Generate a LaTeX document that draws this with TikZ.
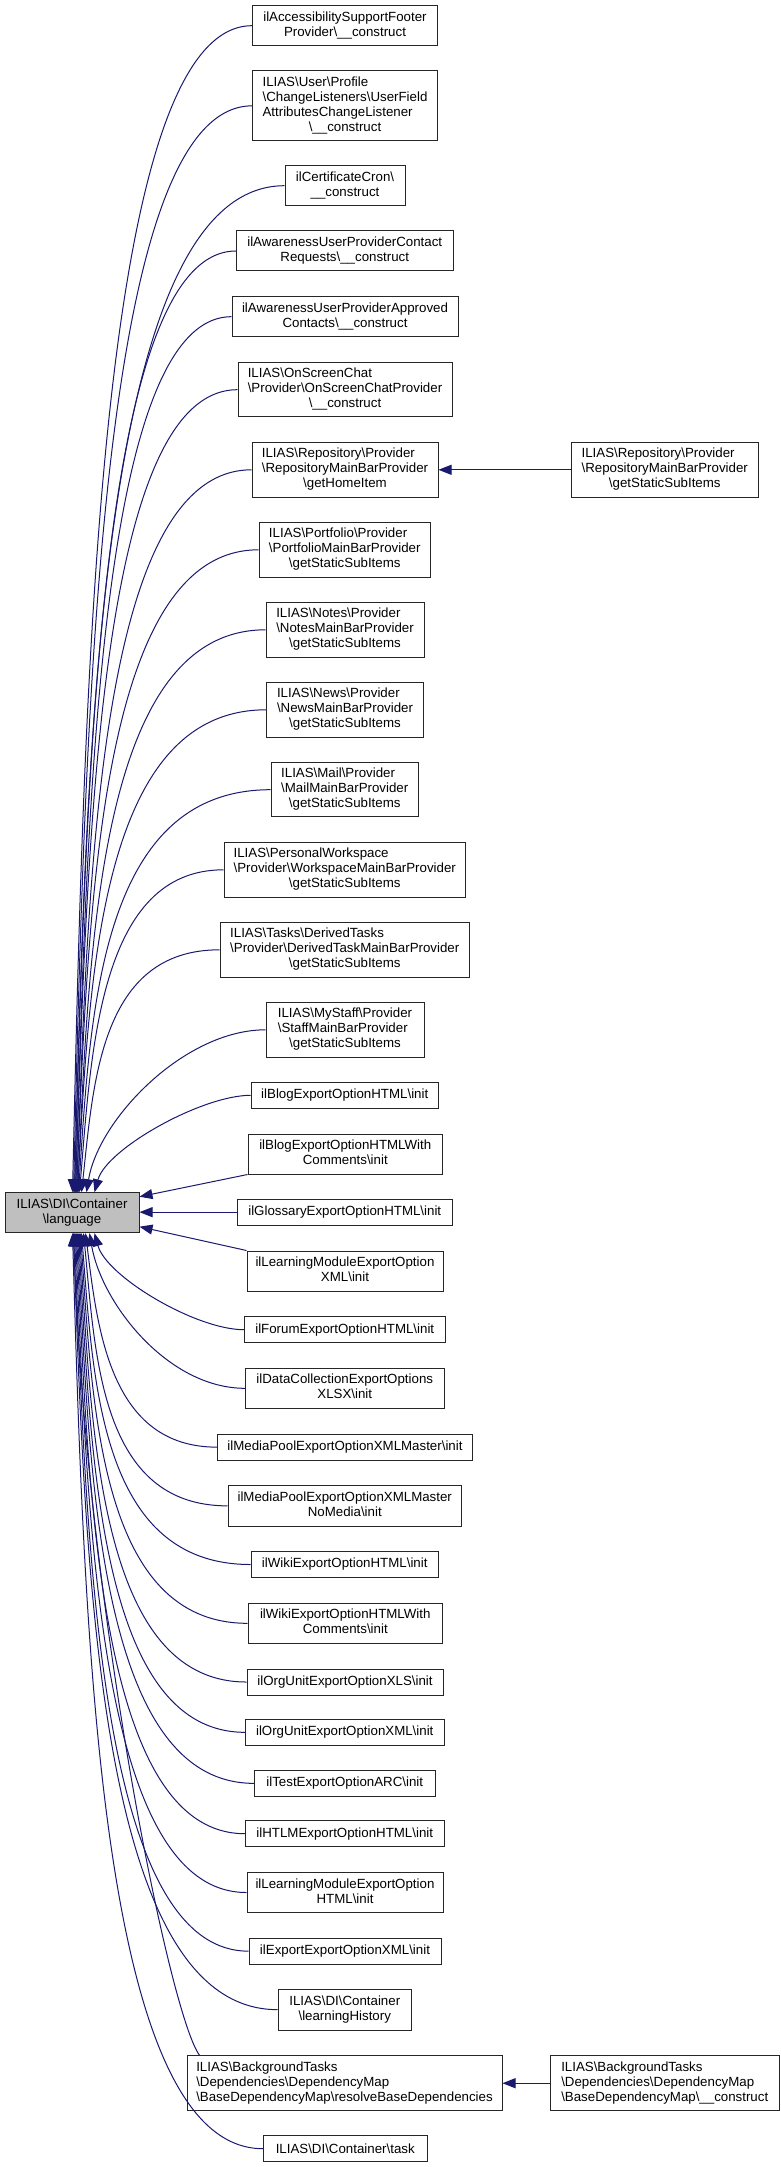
\documentclass[tikz,border=0pt]{standalone}
\usepackage{fontspec}
\newfontfamily\nodefamily{Liberation Sans}
\usetikzlibrary{arrows.meta,calc}
\definecolor{navyc}{HTML}{191970}
\definecolor{nodegray}{HTML}{BFBFBF}
\newcommand\BS{\textbackslash}
\newcommand\TL[2]{\begin{tabular}{@{}l@{}}#1\\\multicolumn{1}{@{}c@{}}{#2}\end{tabular}}
\newcommand\nd[7][]{\node[box,#1,minimum width={(#4-#3)*1bp},minimum height={(#6-#5)*1bp}] (#2) at ({(#3+#4)/2},{(#5+#6)/2}) {#7};}
\newcommand\cn[2]{\draw[conn] let \p1=(#1), \p2=(#2) in (\p1) .. controls ({max(100bp,\x1-0.5*abs((\y1)-(\y2)))},\y1) and ({\x2+12bp},{\y2+0.45*((\y1)-(\y2))}) .. (\p2);}
\begin{document}
\begin{tikzpicture}[x=1bp,y=-1bp,
  box/.style={draw=black!85,line width=1bp,fill=white,inner sep=0pt,
    font=\nodefamily\fontsize{13.3bp}{15bp}\selectfont},
  conn/.style={draw=navyc,line width=1bp,-{Triangle[length=13bp,width=10bp]}}]
\fill[white] (0,0) rectangle (780,2167);
\useasboundingbox (0,0) rectangle (780,2167);
% nodes
\nd{N1}{252.5}{437.5}{5.7}{45.7}{\TL{ilAccessibilitySupportFooter}{Provider\BS{}\_\_construct}}
\nd{N2}{252.5}{437.5}{71}{140.7}{\TL{ILIAS\BS{}User\BS{}Profile\\\BS{}ChangeListeners\BS{}UserField\\AttributesChangeListener}{\BS{}\_\_construct}}
\nd{N3}{285}{405}{165.7}{205.7}{\TL{ilCertificateCron\BS{}}{\_\_construct}}
\nd{N4}{236.5}{453}{231}{271}{\TL{ilAwarenessUserProviderContact}{Requests\BS{}\_\_construct}}
\nd{N5}{232}{458}{296.7}{336.7}{\TL{ilAwarenessUserProviderApproved}{Contacts\BS{}\_\_construct}}
\nd{N6}{238}{452}{362.7}{416.7}{\TL{ILIAS\BS{}OnScreenChat\\\BS{}Provider\BS{}OnScreenChatProvider}{\BS{}\_\_construct}}
\nd{N7}{252}{438}{442.3}{497.3}{\TL{ILIAS\BS{}Repository\BS{}Provider\\\BS{}RepositoryMainBarProvider}{\BS{}getHomeItem}}
\nd{N7r}{571.5}{758}{442.3}{497.3}{\TL{ILIAS\BS{}Repository\BS{}Provider\\\BS{}RepositoryMainBarProvider}{\BS{}getStaticSubItems}}
\nd{N8}{259}{430.5}{522.3}{577.3}{\TL{ILIAS\BS{}Portfolio\BS{}Provider\\\BS{}PortfolioMainBarProvider}{\BS{}getStaticSubItems}}
\nd{N9}{266}{424}{602.3}{657.3}{\TL{ILIAS\BS{}Notes\BS{}Provider\\\BS{}NotesMainBarProvider}{\BS{}getStaticSubItems}}
\nd{N10}{266.5}{423.5}{682.3}{737.3}{\TL{ILIAS\BS{}News\BS{}Provider\\\BS{}NewsMainBarProvider}{\BS{}getStaticSubItems}}
\nd{N11}{271}{418.5}{762.7}{816.7}{\TL{ILIAS\BS{}Mail\BS{}Provider\\\BS{}MailMainBarProvider}{\BS{}getStaticSubItems}}
\nd{N12}{224}{465.5}{842.3}{897.3}{\TL{ILIAS\BS{}PersonalWorkspace\\\BS{}Provider\BS{}WorkspaceMainBarProvider}{\BS{}getStaticSubItems}}
\nd{N13}{220}{469.5}{922.3}{977.3}{\TL{ILIAS\BS{}Tasks\BS{}DerivedTasks\\\BS{}Provider\BS{}DerivedTaskMainBarProvider}{\BS{}getStaticSubItems}}
\nd{N14}{266}{424}{1002.3}{1057.3}{\TL{ILIAS\BS{}MyStaff\BS{}Provider\\\BS{}StaffMainBarProvider}{\BS{}getStaticSubItems}}
\nd{N15}{251}{438.5}{1082.3}{1108.3}{ilBlogExportOptionHTML\BS{}init}
\nd{N16}{248}{442.5}{1134}{1174}{\TL{ilBlogExportOptionHTMLWith}{Comments\BS{}init}}
\nd[fill=nodegray]{L}{5}{139}{1192.7}{1232.7}{\TL{ILIAS\BS{}DI\BS{}Container}{\BS{}language}}
\nd{N17}{237}{452.5}{1199.3}{1225}{ilGlossaryExportOptionHTML\BS{}init}
\nd{N18}{247}{443}{1251}{1291}{\TL{ilLearningModuleExportOption}{XML\BS{}init}}
\nd{N19}{244.5}{445}{1316.7}{1342.7}{ilForumExportOptionHTML\BS{}init}
\nd{N20}{245.5}{444}{1368.3}{1408.3}{\TL{ilDataCollectionExportOptions}{XLSX\BS{}init}}
\nd{N21}{217.5}{472.5}{1434.3}{1460}{ilMediaPoolExportOptionXMLMaster\BS{}init}
\nd{N22}{228}{461.5}{1485.7}{1526}{\TL{ilMediaPoolExportOptionXMLMaster}{NoMedia\BS{}init}}
\nd{N23}{251}{438.5}{1551.7}{1577.3}{ilWikiExportOptionHTML\BS{}init}
\nd{N24}{248}{442.5}{1603.3}{1643.3}{\TL{ilWikiExportOptionHTMLWith}{Comments\BS{}init}}
\nd{N25}{247}{443}{1669}{1695}{ilOrgUnitExportOptionXLS\BS{}init}
\nd{N26}{245.5}{444}{1719.3}{1745.3}{ilOrgUnitExportOptionXML\BS{}init}
\nd{N27}{254.5}{435}{1770.7}{1796}{ilTestExportOptionARC\BS{}init}
\nd{N28}{245.5}{444}{1820.7}{1846.7}{ilHTLMExportOptionHTML\BS{}init}
\nd{N29}{247}{443}{1872.3}{1912.7}{\TL{ilLearningModuleExportOption}{HTML\BS{}init}}
\nd{N30}{249}{441}{1938.3}{1964}{ilExportExportOptionXML\BS{}init}
\nd{N31}{278}{411.5}{1989.3}{2030}{\TL{ILIAS\BS{}DI\BS{}Container}{\BS{}learningHistory}}
\nd{N32}{187}{502}{2055.7}{2110.7}{\TL{ILIAS\BS{}BackgroundTasks\\\BS{}Dependencies\BS{}DependencyMap}{\BS{}BaseDependencyMap\BS{}resolveBaseDependencies}}
\nd{N32r}{550.5}{779}{2055.7}{2110.7}{\TL{ILIAS\BS{}BackgroundTasks\\\BS{}Dependencies\BS{}DependencyMap}{\BS{}BaseDependencyMap\BS{}\_\_construct}}
\nd{N33}{263.5}{427}{2135.7}{2161.7}{ILIAS\BS{}DI\BS{}Container\BS{}task}
% connectors above
\cn{N1.west}{[xshift=68bp]L.north west}
\cn{N2.west}{[xshift=69bp]L.north west}
\cn{N3.west}{[xshift=70bp]L.north west}
\cn{N4.west}{[xshift=70bp]L.north west}
\cn{N5.west}{[xshift=71bp]L.north west}
\cn{N6.west}{[xshift=71bp]L.north west}
\cn{N7.west}{[xshift=72bp]L.north west}
\cn{N8.west}{[xshift=72bp]L.north west}
\cn{N9.west}{[xshift=73bp]L.north west}
\cn{N10.west}{[xshift=73bp]L.north west}
\cn{N11.west}{[xshift=74bp]L.north west}
\cn{N12.west}{[xshift=75bp]L.north west}
\cn{N13.west}{[xshift=77bp]L.north west}
\cn{N14.west}{[xshift=82bp]L.north west}
\cn{N15.west}{[xshift=90bp]L.north west}
% side connectors
\draw[conn] (N16.south west) -- ([yshift=16bp]L.east);
\draw[conn] (N17.west) -- (N17.west -| L.east);
\draw[conn] (N18.north west) -- ([yshift=-14bp]L.east);
% connectors below
\cn{N19.west}{[xshift=90bp]L.south west}
\cn{N20.west}{[xshift=85bp]L.south west}
\cn{N21.west}{[xshift=81bp]L.south west}
\cn{N22.west}{[xshift=79bp]L.south west}
\cn{N23.west}{[xshift=77bp]L.south west}
\cn{N24.west}{[xshift=76bp]L.south west}
\cn{N25.west}{[xshift=75bp]L.south west}
\cn{N26.west}{[xshift=74bp]L.south west}
\cn{N27.west}{[xshift=73bp]L.south west}
\cn{N28.west}{[xshift=72bp]L.south west}
\cn{N29.west}{[xshift=71bp]L.south west}
\cn{N30.west}{[xshift=70bp]L.south west}
\cn{N31.west}{[xshift=69bp]L.south west}
\draw[conn] ([xshift=13bp]N32.north west) .. controls +(-30bp,40bp) and +(12bp,-370bp) .. ([xshift=69bp]L.south west);
\cn{N33.west}{[xshift=68bp]L.south west}
% right-hand connectors
\draw[conn] (N7r.west) -- (N7.east);
\draw[conn] (N32r.west) -- (N32.east);
\end{tikzpicture}
\end{document}
